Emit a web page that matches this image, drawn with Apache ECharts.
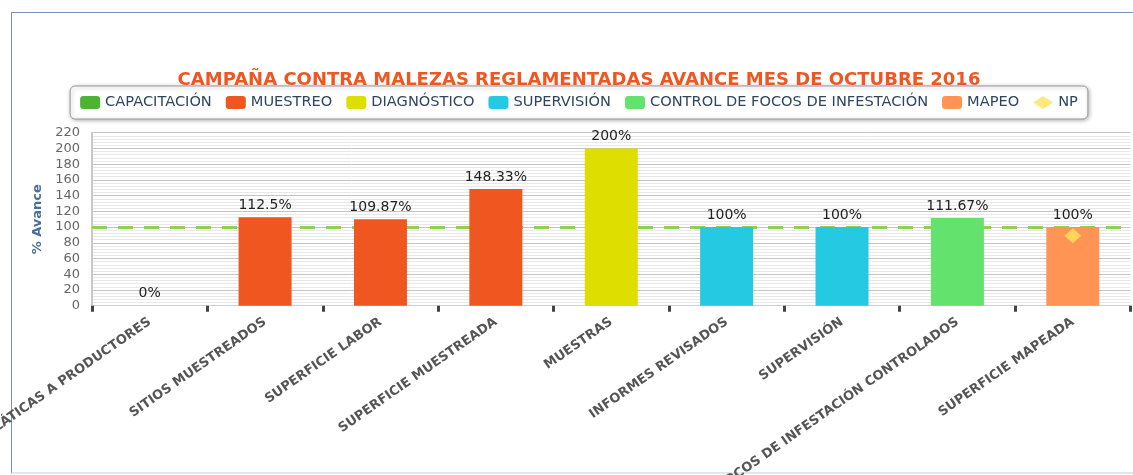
<!DOCTYPE html>
<html>
<head>
<meta charset="utf-8">
<script src="https://cdn.jsdelivr.net/npm/echarts@6/dist/echarts.min.js"></script>
<style>
  html, body { margin: 0; padding: 0; background: #fff; overflow: hidden; width: 1133px; height: 475px; }
  #frame { position: absolute; left: 11px; top: 12px; width: 1140px; height: 459px;
    border-left: 1px solid #7d93b3; border-top: 1px solid #7d93b3; border-bottom: 2px solid #dce9ef; }
  #chart { position: absolute; left: 0; top: 0; width: 1158px; height: 475px; }
</style>
</head>
<body>
<div id="frame"></div>
<div id="chart"></div>
<script>
const categories = [
  "PLÁTICAS A PRODUCTORES",
  "SITIOS MUESTREADOS",
  "SUPERFICIE LABOR",
  "SUPERFICIE MUESTREADA",
  "MUESTRAS",
  "INFORMES REVISADOS",
  "SUPERVISIÓN",
  "FOCOS DE INFESTACIÓN CONTROLADOS",
  "SUPERFICIE MAPEADA",
];

const capacitacion = [0, "-", "-", "-", "-", "-", "-", "-", "-"];
const muestreo = ["-", 112.5, 109.87, 148.33, "-", "-", "-", "-", "-"];
const diagnostico = ["-", "-", "-", "-", 200, "-", "-", "-", "-"];
const supervision = ["-", "-", "-", "-", "-", 100, 100, "-", "-"];
const controlFocos = ["-", "-", "-", "-", "-", "-", "-", 111.67, "-"];
const mapeo = ["-", "-", "-", "-", "-", "-", "-", "-", 100];
const np = ["-", "-", "-", "-", "-", "-", "-", "-", 89];

const meta = 100;
const yTicks = { min: 0, max: 220, interval: 20 };

const font = "DejaVu Sans";

const barSeries = (name, data, color) => ({
  name,
  type: "bar",
  data,
  barWidth: 53,
  barGap: "-100%",
  z: 3,
  itemStyle: { color },
  label: {
    show: true,
    position: "top",
    distance: 5,
    fontFamily: font,
    fontSize: 14,
    color: "#222",
    formatter: (p) => p.value + "%",
  },
});

const chart = echarts.init(document.getElementById("chart"));

chart.setOption({
  animation: false,
  title: {
    text: "CAMPAÑA CONTRA MALEZAS REGLAMENTADAS AVANCE MES DE OCTUBRE 2016",
    left: "center",
    top: 66,
    textStyle: { fontFamily: font, fontSize: 18, fontWeight: "bold", color: "#ef5722" },
  },
  legend: {
    left: "center",
    top: 86,
    padding: [9, 10],
    itemGap: 14,
    itemWidth: 20,
    itemHeight: 13,
    borderColor: "#999",
    borderWidth: 1,
    borderRadius: 5,
    backgroundColor: "#fff",
    shadowBlur: 4,
    shadowColor: "rgba(0,0,0,0.3)",
    shadowOffsetX: 1,
    shadowOffsetY: 1,
    textStyle: { fontFamily: font, fontSize: 14.6, color: "#2e4660" },
    data: [
      { name: "CAPACITACIÓN", icon: "roundRect" },
      { name: "MUESTREO", icon: "roundRect" },
      { name: "DIAGNÓSTICO", icon: "roundRect" },
      { name: "SUPERVISIÓN", icon: "roundRect" },
      { name: "CONTROL DE FOCOS DE INFESTACIÓN", icon: "roundRect" },
      { name: "MAPEO", icon: "roundRect" },
      { name: "NP", icon: "diamond" },
    ],
  },
  grid: { left: 92, right: 27.5, top: 132.7, bottom: 169.3, outerBoundsMode: "none" },
  xAxis: {
    type: "category",
    data: categories,
    axisLine: { lineStyle: { color: "#c8d2dc", width: 1 } },
    axisTick: { show: true, length: 6, lineStyle: { color: "#444", width: 3 } },
    axisLabel: {
      interval: 0,
      rotate: 35,
      margin: 15,
      fontFamily: font,
      fontSize: 13,
      fontWeight: "bold",
      color: "#555",
    },
  },
  yAxis: {
    type: "value",
    min: yTicks.min,
    max: yTicks.max,
    interval: yTicks.interval,
    name: "% Avance",
    nameLocation: "middle",
    nameGap: 48,
    nameTextStyle: { fontFamily: font, fontSize: 13, fontWeight: "bold", color: "#4a6f98" },
    axisLine: { show: true, lineStyle: { color: "#c8c8c8", width: 2 } },
    axisTick: { show: false },
    axisLabel: { fontFamily: font, fontSize: 13, color: "#666", margin: 12 },
    splitLine: { lineStyle: { color: "#c4c4c4", width: 1 } },
    minorTick: { show: false, splitNumber: 5 },
    minorSplitLine: { show: true, lineStyle: { color: "#e8e8e8", width: 1 } },
  },
  series: [
    {
      name: "meta",
      type: "line",
      data: [],
      z: 1,
      markLine: {
        silent: true,
        symbol: "none",
        z: 1,
        label: { show: false },
        lineStyle: { color: "#8fd14f", width: 3, type: [15, 11] },
        data: [{ yAxis: meta }],
      },
    },
    barSeries("CAPACITACIÓN", capacitacion, "#4db432"),
    barSeries("MUESTREO", muestreo, "#f0561f"),
    barSeries("DIAGNÓSTICO", diagnostico, "#dede00"),
    barSeries("SUPERVISIÓN", supervision, "#26c9e2"),
    barSeries("CONTROL DE FOCOS DE INFESTACIÓN", controlFocos, "#64e26e"),
    barSeries("MAPEO", mapeo, "#ff9455"),
    {
      name: "NP",
      type: "scatter",
      data: np,
      symbol: "diamond",
      symbolSize: [17, 15],
      z: 5,
      itemStyle: { color: "#ffe45c" },
    },
  ],
});
</script>
</body>
</html>
